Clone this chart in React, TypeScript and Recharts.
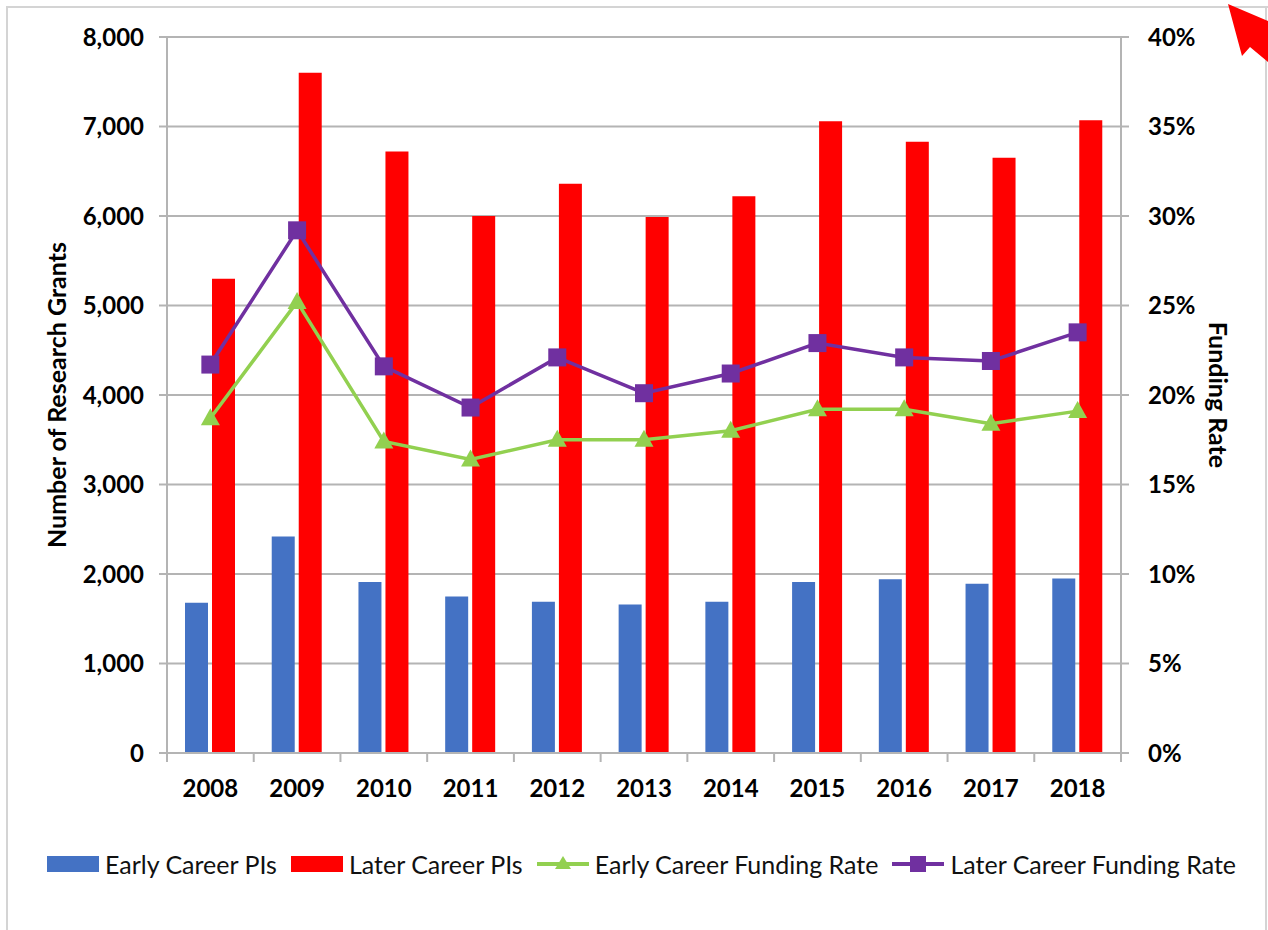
import { ComposedChart, Bar, Line, XAxis, YAxis, CartesianGrid } from "recharts";

const years = ["2008", "2009", "2010", "2011", "2012", "2013", "2014", "2015", "2016", "2017", "2018"];
const earlyPIs = [1680, 2420, 1910, 1750, 1690, 1660, 1690, 1910, 1940, 1890, 1950];
const laterPIs = [5300, 7600, 6720, 6000, 6360, 5990, 6220, 7060, 6830, 6650, 7070];
const earlyRate = [18.7, 25.2, 17.4, 16.4, 17.5, 17.5, 18.0, 19.2, 19.2, 18.4, 19.1];
const laterRate = [21.7, 29.2, 21.6, 19.3, 22.1, 20.1, 21.2, 22.9, 22.1, 21.9, 23.5];
const grantTicks = [0, 1000, 2000, 3000, 4000, 5000, 6000, 7000, 8000];
const rateTicks = [0, 5, 10, 15, 20, 25, 30, 35, 40];

const data = years.map((year, i) => ({
  year,
  early: earlyPIs[i],
  later: laterPIs[i],
  earlyRate: earlyRate[i],
  laterRate: laterRate[i],
}));

const W = 1268;
const H = 930;
const LEFT_W = 167;
const RIGHT_W = 147;
const BAND = (W - LEFT_W - RIGHT_W) / years.length;

const FONT = "Lato, 'Open Sans', sans-serif";
const GRID = "#b4b4b4";
const BLUE = "#4472C4";
const RED = "#FF0000";
const GREEN = "#92D050";
const PURPLE = "#7030A0";

const YearTick = ({ x, y, payload, index }: any) => (
  <g>
    <line x1={x - BAND / 2} x2={x - BAND / 2} y1={y} y2={y + 9} stroke={GRID} strokeWidth={2} />
    {index === years.length - 1 && (
      <line x1={x + BAND / 2} x2={x + BAND / 2} y1={y} y2={y + 9} stroke={GRID} strokeWidth={2} />
    )}
    <text x={x} y={y + 44} textAnchor="middle" fontFamily={FONT} fontWeight={700} fontSize={24} fill="#000">
      {payload.value}
    </text>
  </g>
);

const SquareDot = (p: any) => (
  <rect key={`sq${p.index}`} x={p.cx - 9} y={p.cy - 9} width={18} height={18} fill={PURPLE} />
);

const TriangleDot = (p: any) => (
  <polygon
    key={`tr${p.index}`}
    points={`${p.cx},${p.cy - 10} ${p.cx + 9.5},${p.cy + 7} ${p.cx - 9.5},${p.cy + 7}`}
    fill={GREEN}
  />
);

const legendItems = [
  { label: "Early Career PIs", kind: "bar", color: BLUE },
  { label: "Later Career PIs", kind: "bar", color: RED },
  { label: "Early Career Funding Rate", kind: "tri", color: GREEN },
  { label: "Later Career Funding Rate", kind: "sq", color: PURPLE },
];

const LegendIcon = ({ kind, color }: { kind: string; color: string }) => (
  <svg width={52} height={20} style={{ display: "block" }}>
    {kind === "bar" && <rect x={0} y={2} width={52} height={16} fill={color} />}
    {kind !== "bar" && <line x1={0} x2={52} y1={10} y2={10} stroke={color} strokeWidth={4} />}
    {kind === "tri" && <polygon points="26,2 34,15 18,15" fill={color} />}
    {kind === "sq" && <rect x={18} y={2} width={16} height={16} fill={color} />}
  </svg>
);

const tickStyle = { fontFamily: FONT, fontWeight: 700, fontSize: 24, fill: "#000" };
const axisLabelStyle = { textAnchor: "middle", fontFamily: FONT, fontWeight: 700, fontSize: 25, fill: "#000" };

export default function App() {
  return (
    <div style={{ position: "absolute", left: 0, top: 0, width: W, height: H, background: "#fff", overflow: "hidden" }}>
      <div
        style={{
          position: "absolute",
          left: 6,
          top: 6,
          width: W,
          height: H + 20,
          borderTop: "2px solid #d4d4d4",
          borderLeft: "2px solid #d4d4d4",
          boxSizing: "border-box",
        }}
      />
      <div style={{ position: "absolute", left: 1265, top: 6, width: 2, height: H, background: "#d4d4d4" }} />
      <div style={{ position: "absolute", left: 0, top: 0 }}>
        <ComposedChart
          width={W}
          height={H}
          data={data}
          margin={{ top: 37, right: 0, bottom: 117, left: 0 }}
          barGap={4}
          barSize={23}
        >
          <CartesianGrid yAxisId="left" vertical={false} stroke={GRID} strokeWidth={2} />
          <XAxis
            dataKey="year"
            height={60}
            axisLine={{ stroke: GRID, strokeWidth: 2 }}
            tickLine={false}
            tickSize={0}
            tickMargin={0}
            tick={<YearTick />}
            interval={0}
          />
          <YAxis
            yAxisId="left"
            width={LEFT_W}
            domain={[0, 8000]}
            ticks={grantTicks}
            tickFormatter={(v: number) => v.toLocaleString("en-US")}
            axisLine={{ stroke: GRID, strokeWidth: 2 }}
            tickLine={{ stroke: GRID, strokeWidth: 2 }}
            tickSize={8}
            tickMargin={15}
            tick={tickStyle}
            label={{
              value: "Number of Research Grants",
              angle: -90,
              position: "insideLeft",
              offset: 57,
              style: axisLabelStyle,
            }}
          />
          <YAxis
            yAxisId="right"
            orientation="right"
            width={RIGHT_W}
            domain={[0, 40]}
            ticks={rateTicks}
            tickFormatter={(v: number) => `${v}%`}
            axisLine={{ stroke: GRID, strokeWidth: 2 }}
            tickLine={{ stroke: GRID, strokeWidth: 2 }}
            tickSize={8}
            tickMargin={19}
            tick={tickStyle}
            label={{
              value: "Funding Rate",
              angle: 90,
              position: "insideRight",
              offset: 50,
              style: axisLabelStyle,
            }}
          />
          <Bar yAxisId="left" dataKey="early" name="Early Career PIs" fill={BLUE} isAnimationActive={false} />
          <Bar yAxisId="left" dataKey="later" name="Later Career PIs" fill={RED} isAnimationActive={false} />
          <Line
            yAxisId="right"
            dataKey="earlyRate"
            name="Early Career Funding Rate"
            stroke={GREEN}
            strokeWidth={3.5}
            dot={TriangleDot}
            activeDot={false}
            isAnimationActive={false}
          />
          <Line
            yAxisId="right"
            dataKey="laterRate"
            name="Later Career Funding Rate"
            stroke={PURPLE}
            strokeWidth={3.5}
            dot={SquareDot}
            activeDot={false}
            isAnimationActive={false}
          />
        </ComposedChart>
      </div>
      <div
        style={{
          position: "absolute",
          left: 47,
          top: 849,
          display: "flex",
          alignItems: "center",
          gap: 14,
          fontFamily: FONT,
          fontSize: 25,
          color: "#111",
          whiteSpace: "nowrap",
        }}
      >
        {legendItems.map((it) => (
          <div key={it.label} style={{ display: "flex", alignItems: "center", gap: 6 }}>
            <LegendIcon kind={it.kind} color={it.color} />
            <span>{it.label}</span>
          </div>
        ))}
      </div>
      <svg width={W} height={80} style={{ position: "absolute", left: 0, top: 0 }}>
        <polygon points="1228,4 1268,21 1268,62 1250,47 1242,56" fill="#FF0000" />
      </svg>
    </div>
  );
}
